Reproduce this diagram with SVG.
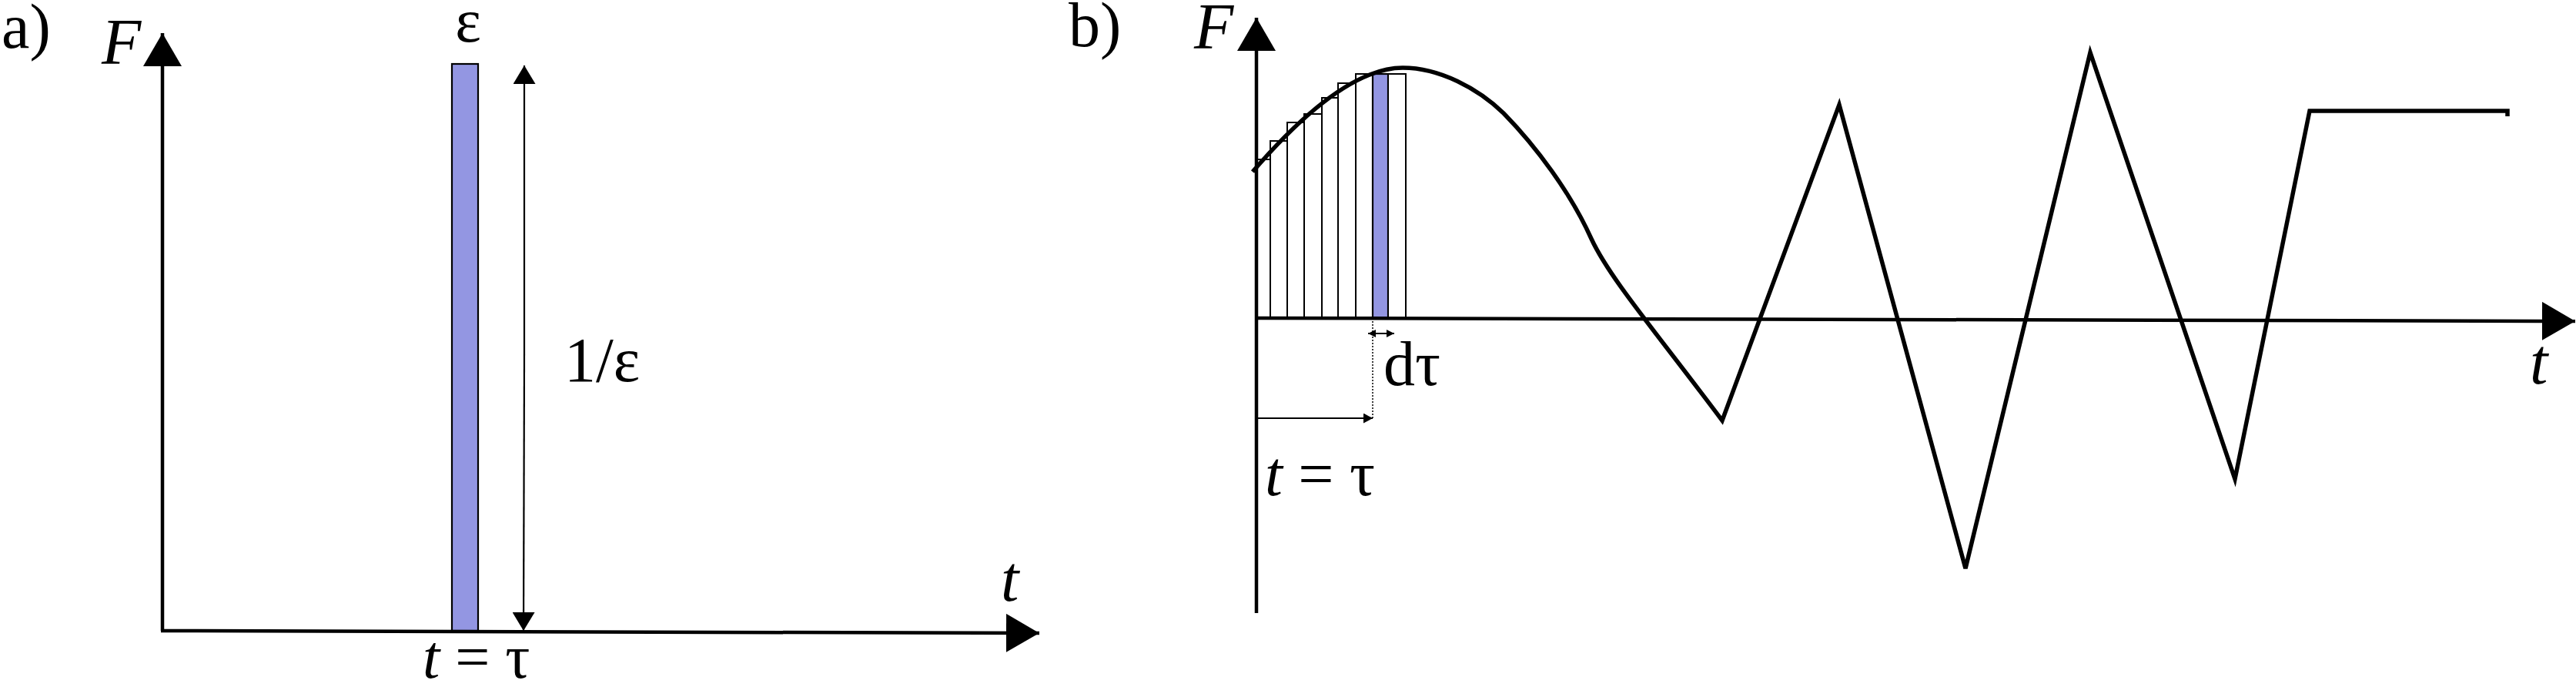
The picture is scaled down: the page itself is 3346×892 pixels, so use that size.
<svg xmlns="http://www.w3.org/2000/svg" width="3346" height="892" viewBox="0 0 3346 892">
<style>
.txt{font-family:"Liberation Serif","Times New Roman",serif;fill:#000}
.it{font-style:italic}
.axis{stroke:#000;stroke-width:4.5;fill:none}
.thin{stroke:#000;stroke-width:2.2;fill:none}
.curve{stroke:#000;stroke-width:5.5;fill:none;stroke-linejoin:miter}
.bar{fill:#fff;stroke:#000;stroke-width:2}
.blue{fill:#9396e2;stroke:#000;stroke-width:2.2}
</style>
<defs>
<marker id="big" markerUnits="userSpaceOnUse" viewBox="0 0 43 50" refX="43" refY="25" markerWidth="43" markerHeight="50" orient="auto"><path d="M0,0 L43,25 L0,50 Z" fill="#000"/></marker>
<marker id="mid" markerUnits="userSpaceOnUse" viewBox="0 0 24 29" refX="24" refY="14.5" markerWidth="24" markerHeight="29" orient="auto"><path d="M0,0 L24,14.5 L0,29 Z" fill="#000"/></marker>
<marker id="small" markerUnits="userSpaceOnUse" viewBox="0 0 12 13" refX="12" refY="6.5" markerWidth="12" markerHeight="13" orient="auto"><path d="M0,0 L12,6.5 L0,13 Z" fill="#000"/></marker>
<marker id="tiny" markerUnits="userSpaceOnUse" viewBox="0 0 10 10" refX="10" refY="5" markerWidth="10" markerHeight="10" orient="auto-start-reverse"><path d="M0,0 L10,5 L0,10 Z" fill="#000"/></marker>
</defs>

<g id="panel-a">
  <text class="txt" x="2" y="62" font-size="82">a)</text>
  <text class="txt it" x="132" y="83" font-size="84">F</text>
  <text class="txt" x="608" y="54" font-size="80" text-anchor="middle">ε</text>
  <text class="txt" x="733" y="495" font-size="82">1/ε</text>
  <text class="txt it" x="1300" y="780" font-size="84">t</text>
  <text class="txt" x="549" y="880" font-size="80"><tspan class="it">t</tspan> = τ</text>
  <g id="impulse-bar">
    <rect class="blue" x="587" y="83" width="34" height="736"/>
  </g>
</g>

<g id="panel-b">
  <text class="txt" x="1388" y="60" font-size="82">b)</text>
  <text class="txt it" x="1551" y="63" font-size="84">F</text>
  <text class="txt" x="1797" y="500" font-size="82">dτ</text>
  <text class="txt it" x="3286" y="498" font-size="84">t</text>
  <text class="txt" x="1643" y="643" font-size="82"><tspan class="it">t</tspan> = τ</text>
  <g id="strips">
    <rect class="bar" x="1632" y="207" width="18" height="206"/>
    <rect class="bar" x="1650" y="183" width="22" height="230"/>
    <rect class="bar" x="1672" y="159" width="22" height="254"/>
    <rect class="bar" x="1694" y="148" width="23" height="265"/>
    <rect class="bar" x="1717" y="127" width="21" height="286"/>
    <rect class="bar" x="1738" y="108" width="23" height="305"/>
    <rect class="bar" x="1761" y="96" width="22" height="317"/>
    <rect class="blue" x="1783" y="96" width="20" height="317"/>
    <rect class="bar" x="1803" y="96" width="23" height="317"/>
  </g>
  <g id="force-curve">
    <path class="curve" d="M1627,223 C1690,150 1760,88 1822,88 C1870,88 1920,115 1953,147 C1995,190 2040,250 2067,310 C2090,360 2150,430 2237,546 L2389,136 L2553,738 L2715,68 L2903,622 L3000,144 L3257,144 L3257,151"/>
  </g>
</g>

<g id="connectors">
  <line class="axis" x1="211" y1="819" x2="211" y2="43" marker-end="url(#big)"/>
  <line class="axis" x1="209" y1="819" x2="1350" y2="822" marker-end="url(#big)"/>
  <line class="thin" x1="681" y1="460" x2="681" y2="85" marker-end="url(#mid)"/>
  <line class="thin" x1="681" y1="460" x2="680" y2="819" marker-end="url(#mid)"/>
  <line class="axis" x1="1632" y1="796" x2="1632" y2="23" marker-end="url(#big)"/>
  <line class="axis" x1="1630" y1="413" x2="3345" y2="417" marker-end="url(#big)"/>
  <line x1="1783" y1="413" x2="1783" y2="543" stroke="#000" stroke-width="1.5" stroke-dasharray="2,2"/>
  <line class="thin" x1="1632" y1="543" x2="1783" y2="543" marker-end="url(#small)"/>
  <line x1="1777" y1="433" x2="1811" y2="433" stroke="#000" stroke-width="1.8" marker-start="url(#tiny)" marker-end="url(#tiny)"/>
</g>
</svg>
